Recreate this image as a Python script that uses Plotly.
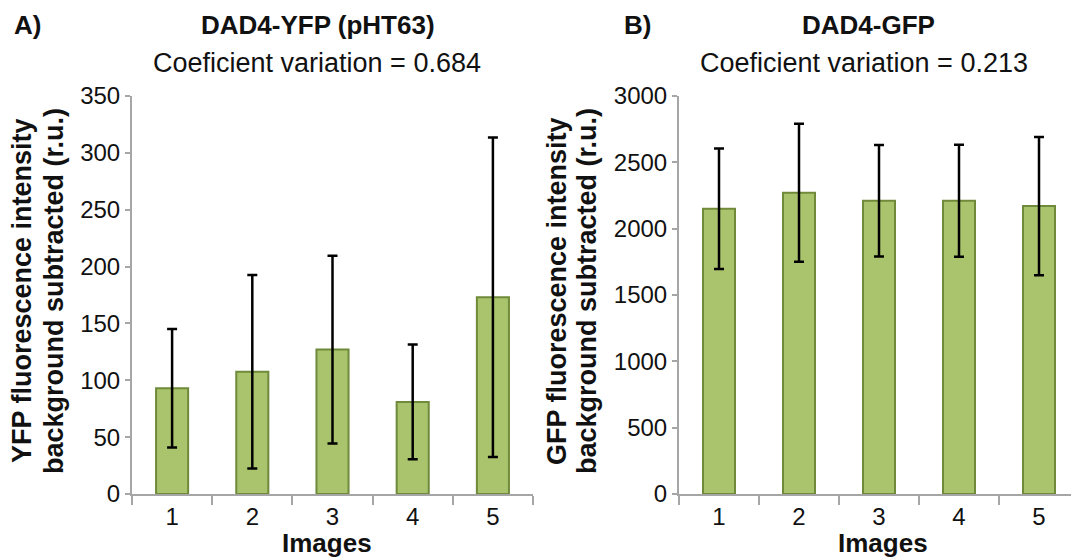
import plotly.graph_objects as go

W, H = 1079, 560
OFF = 8  # page body margin offset

categories = ["1", "2", "3", "4", "5"]
yfp_means = [93, 107.5, 127, 81, 173]
yfp_errors = [52, 85, 82.5, 50.5, 140.5]
gfp_means = [2150, 2270, 2210, 2210, 2170]
gfp_errors = [454, 520, 420, 422, 521]

yfp_ticks = [0, 50, 100, 150, 200, 250, 300, 350]
gfp_ticks = [0, 500, 1000, 1500, 2000, 2500, 3000]

FONT = "Arial, Liberation Sans, sans-serif"
BAR_FILL = "#A9C46C"
BAR_LINE = "#6F8A3A"
AXIS_COL = "#A6A6A6"
TXT = "#111111"

# target screen pixels of plot area
TOP_S, BOT_S = 96, 494
TOP, BOT = TOP_S - OFF, BOT_S - OFF


def px(x):
    return (x - OFF) / W


def py(y):
    return (BOT - (y - OFF)) / (BOT - TOP)


fig = go.Figure()

fig.add_trace(go.Bar(
    x=categories, y=yfp_means, width=0.4,
    marker=dict(color=BAR_FILL, line=dict(color=BAR_LINE, width=2)),
    error_y=dict(type="data", array=yfp_errors, visible=True,
                 color="black", thickness=2.5, width=5),
    xaxis="x", yaxis="y", showlegend=False,
))
fig.add_trace(go.Bar(
    x=categories, y=gfp_means, width=0.4,
    marker=dict(color=BAR_FILL, line=dict(color=BAR_LINE, width=2)),
    error_y=dict(type="data", array=gfp_errors, visible=True,
                 color="black", thickness=2.5, width=5),
    xaxis="x2", yaxis="y2", showlegend=False,
))

xcommon = dict(type="category", showline=True, linecolor=AXIS_COL, linewidth=2,
               ticks="outside", tickson="boundaries", ticklen=9, tickwidth=2,
               tickcolor=AXIS_COL, showgrid=False, zeroline=False,
               tickfont=dict(family=FONT, size=24, color=TXT), range=[-0.5, 4.5])
ycommon = dict(showline=True, linecolor=AXIS_COL, linewidth=2,
               ticks="outside", ticklen=5, tickwidth=2, tickcolor=AXIS_COL,
               showgrid=False, zeroline=False,
               tickfont=dict(family=FONT, size=24, color=TXT))

fig.update_layout(
    width=W, height=H,
    margin=dict(l=0, r=0, t=TOP, b=H - BOT),
    paper_bgcolor="white", plot_bgcolor="white",
    xaxis=dict(domain=[px(132), px(533)], anchor="y", **xcommon),
    yaxis=dict(domain=[0, 1], anchor="x", range=[0, 350],
               tickvals=yfp_ticks, **ycommon),
    xaxis2=dict(domain=[px(679), px(1079)], anchor="y2", **xcommon),
    yaxis2=dict(domain=[0, 1], anchor="x2", range=[0, 3000],
                tickvals=gfp_ticks, **ycommon),
)

anns = [
    dict(text="<b>A)</b>", x=px(12), y=py(25), xanchor="left", size=26),
    dict(text="<b>DAD4-YFP (pHT63)</b>", x=px(318), y=py(25), xanchor="center", size=26),
    dict(text="Coeficient variation = 0.684", x=px(317), y=py(63), xanchor="center", size=27),
    dict(text="<b>B)</b>", x=px(622), y=py(25), xanchor="left", size=26),
    dict(text="<b>DAD4-GFP</b>", x=px(868), y=py(25), xanchor="center", size=26),
    dict(text="Coeficient variation = 0.213", x=px(864), y=py(63), xanchor="center", size=27),
    dict(text="<b>Images</b>", x=px(327), y=py(543), xanchor="center", size=26),
    dict(text="<b>Images</b>", x=px(883), y=py(543), xanchor="center", size=26),
]
for a in anns:
    fig.add_annotation(text=a["text"], x=a["x"], y=a["y"], xref="paper", yref="paper",
                       xanchor=a["xanchor"], yanchor="middle", showarrow=False,
                       font=dict(family=FONT, size=a["size"], color=TXT))

ytitles = [
    ("<b>YFP fluorescence intensity</b>", 22),
    ("<b>background subtracted (r.u.)</b>", 54),
    ("<b>GFP fluorescence intensity</b>", 557),
    ("<b>background subtracted (r.u.)</b>", 587),
]
for t, xc in ytitles:
    fig.add_annotation(text=t, x=px(xc), y=py(291), xref="paper", yref="paper",
                       xanchor="center", yanchor="middle", textangle=-90,
                       showarrow=False, font=dict(family=FONT, size=27, color=TXT))

fig.write_html("out.html")
